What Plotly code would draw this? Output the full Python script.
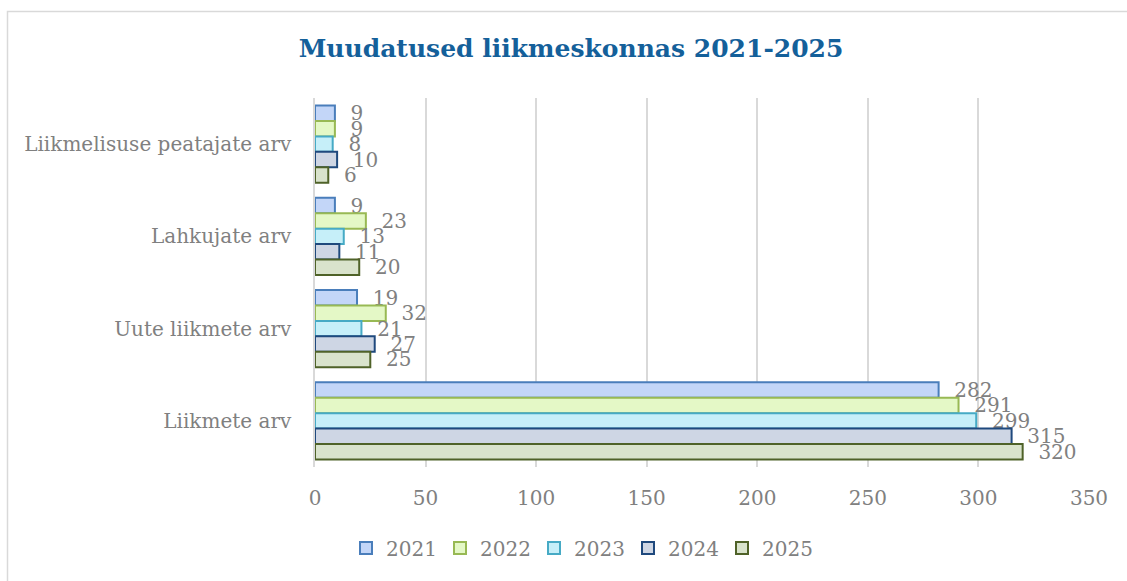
import plotly.graph_objects as go

categories = ["Liikmelisuse peatajate arv", "Lahkujate arv", "Uute liikmete arv", "Liikmete arv"]
years = ["2021", "2022", "2023", "2024", "2025"]
values = {
    "2021": [9, 9, 19, 282],
    "2022": [9, 23, 32, 291],
    "2023": [8, 13, 21, 299],
    "2024": [10, 11, 27, 315],
    "2025": [6, 20, 25, 320],
}
x_ticks = [0, 50, 100, 150, 200, 250, 300, 350]
title_text = "Muudatused liikmeskonnas 2021-2025"

fills = {"2021": "#C3D6F8", "2022": "#E4F8C6", "2023": "#C6EFF9", "2024": "#CED6E4", "2025": "#D9E3CC"}
borders = {"2021": "#4A7EBB", "2022": "#98B954", "2023": "#46AAC5", "2024": "#1F497D", "2025": "#4F6228"}

FONT = "DejaVu Serif"
GRAY = "#808080"

fig = go.Figure()
for yr in years:
    fig.add_trace(go.Bar(
        name=yr, y=categories, x=values[yr], orientation="h",
        marker=dict(color=fills[yr], line=dict(color=borders[yr], width=2)),
        texttemplate="\u00a0\u00a0%{x}", textposition="outside",
        constraintext="none", cliponaxis=False,
        textfont=dict(family=FONT, size=20, color=GRAY),
    ))

L, R, T, B = 315, 38, 98, 114
W, H = 1127, 581
pw, ph = W - L - R, H - T - B

fig.update_layout(
    width=W, height=H,
    margin=dict(l=L, r=R, t=T, b=B),
    paper_bgcolor="white", plot_bgcolor="white",
    barmode="group", bargap=0.165, bargroupgap=0,
    title=dict(text="<b>" + title_text + "</b>", x=571 / W, xanchor="center",
               y=1 - 48 / H, yanchor="middle",
               font=dict(family=FONT, size=25, color="#14609A")),
    xaxis=dict(range=[0, 350], tickvals=x_ticks, showgrid=True, gridcolor="#D9D9D9",
               gridwidth=1.5, zeroline=False, showline=False, ticks="",
               tickfont=dict(family=FONT, size=20, color=GRAY), ticklabelstandoff=17),
    yaxis=dict(autorange="reversed", showline=True, linecolor="#D9D9D9", linewidth=1.5,
               ticks="", tickfont=dict(family=FONT, size=20, color=GRAY),
               ticklabelstandoff=18),
    legend=dict(orientation="h", xref="container", yref="container",
                x=581 / W, xanchor="center", y=1 - 548 / H, yanchor="middle",
                entrywidth=49, entrywidthmode="pixels",
                font=dict(family=FONT, size=20, color=GRAY), traceorder="normal"),
    showlegend=True,
)

fig.add_shape(type="rect", xref="paper", yref="paper",
              x0=(7.5 - L) / pw, x1=(1135 - L) / pw,
              y0=(H - B - 590) / ph, y1=(H - B - 11.5) / ph,
              line=dict(color="#D9D9D9", width=1.5), layer="below")

fig.write_html("out.html", config={"displayModeBar": False},
               post_script="document.body.style.margin='0';")
